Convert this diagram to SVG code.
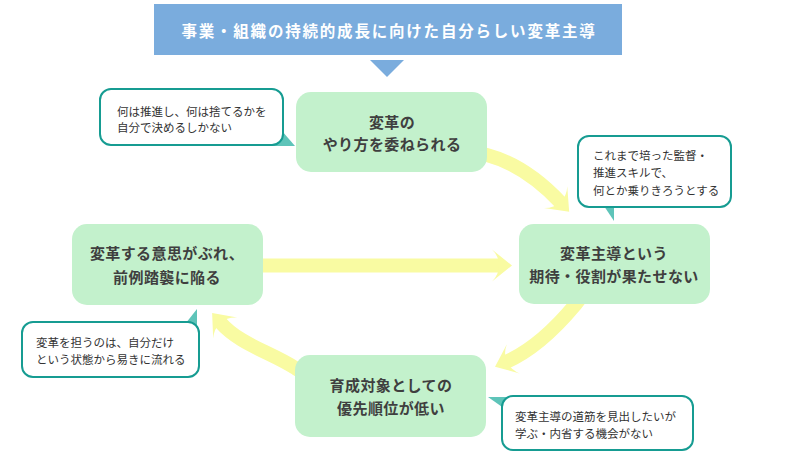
<svg xmlns="http://www.w3.org/2000/svg" width="790" height="455" viewBox="0 0 790 455">
<defs>
<style>
.node rect{fill:#c3f1cc;}
.nt{font-family:"Noto Sans CJK JP","Noto Sans",sans-serif;font-size:15px;font-weight:bold;fill:#3f3f3f;text-anchor:middle;letter-spacing:0.4px;}
.co rect{fill:#ffffff;stroke:#169c92;stroke-width:2;}
.tail{fill:#5ec4b9;}
.ct{font-family:"Noto Sans CJK JP","Noto Sans",sans-serif;font-size:11.5px;fill:#333333;}
.flow{fill:none;stroke:#f9fba2;stroke-width:14;marker-end:url(#ah);}
</style>
<marker id="ah" markerUnits="userSpaceOnUse" markerWidth="24" markerHeight="34" viewBox="0 -17 24 34" refX="8" refY="0" orient="auto" overflow="visible">
<path d="M20 0 L0 -16 Q7 -9 7 0 Q7 9 0 16 Z" fill="#f9fba2"/>
</marker>
</defs>
<rect width="790" height="455" fill="#ffffff"/>

<g id="title">
<rect x="154" y="4" width="468" height="51" fill="#7aacdd"/>
<text x="389" y="37" font-family="Noto Sans CJK JP, Noto Sans, sans-serif" font-size="15.5" font-weight="bold" fill="#ffffff" text-anchor="middle" letter-spacing="1.8">事業・組織の持続的成長に向けた自分らしい変革主導</text>
<polygon points="370,60 404,60 387,77" fill="#7aacdd"/>
</g>

<g id="connectors">
<path class="flow" d="M475 152 L487 155 Q526 165.5 561 203"/>
<path class="flow" d="M582 296 L575 305 Q540 347 506 362"/>
<path class="flow" d="M305 374 L296 368.5 C271 352 240 345 220 322"/>
<path class="flow" d="M255 265.5 L500 265.5"/>
</g>

<g id="callout-tl" class="co">
<polygon class="tail" points="272,131 282,131 295,146 272,146"/>
<rect x="100" y="89" width="183" height="56" rx="11"/>
<text class="ct" x="117" y="115.5">何は推進し、何は捨てるかを</text>
<text class="ct" x="117" y="131.5">自分で決めるしかない</text>
</g>

<g id="callout-r" class="co">
<polygon class="tail" points="600,200 614,200 614,221"/>
<rect x="578" y="136" width="153" height="71" rx="11"/>
<text class="ct" x="593" y="159.5">これまで培った監督・</text>
<text class="ct" x="593" y="177">推進スキルで、</text>
<text class="ct" x="593" y="194.5">何とか乗りきろうとする</text>
</g>

<g id="callout-bl" class="co">
<polygon class="tail" points="182,328 197,328 197,309"/>
<rect x="22" y="322" width="177" height="55" rx="11"/>
<text class="ct" x="36" y="347">変革を担うのは、自分だけ</text>
<text class="ct" x="36" y="363.5">という状態から易きに流れる</text>
</g>

<g id="callout-br" class="co">
<polygon class="tail" points="488,397 512,397 512,414"/>
<rect x="502" y="396" width="191" height="54" rx="11"/>
<text class="ct" x="515" y="420.5">変革主導の道筋を見出したいが</text>
<text class="ct" x="515" y="437.5">学ぶ・内省する機会がない</text>
</g>

<g id="node-top" class="node">
<rect x="296" y="92" width="191" height="80" rx="15"/>
<text class="nt" x="392" y="128">変革の</text>
<text class="nt" x="392" y="150">やり方を委ねられる</text>
</g>

<g id="node-right" class="node">
<rect x="519" y="224" width="191" height="80" rx="15"/>
<text class="nt" x="614" y="259">変革主導という</text>
<text class="nt" x="614" y="282">期待・役割が果たせない</text>
</g>

<g id="node-left" class="node">
<rect x="72" y="224" width="191" height="81" rx="15"/>
<text class="nt" x="167" y="259">変革する意思がぶれ、</text>
<text class="nt" x="167" y="282.5">前例踏襲に陥る</text>
</g>

<g id="node-bottom" class="node">
<rect x="295" y="355" width="191" height="82" rx="15"/>
<text class="nt" x="391" y="390.5">育成対象としての</text>
<text class="nt" x="391" y="414">優先順位が低い</text>
</g>
</svg>
